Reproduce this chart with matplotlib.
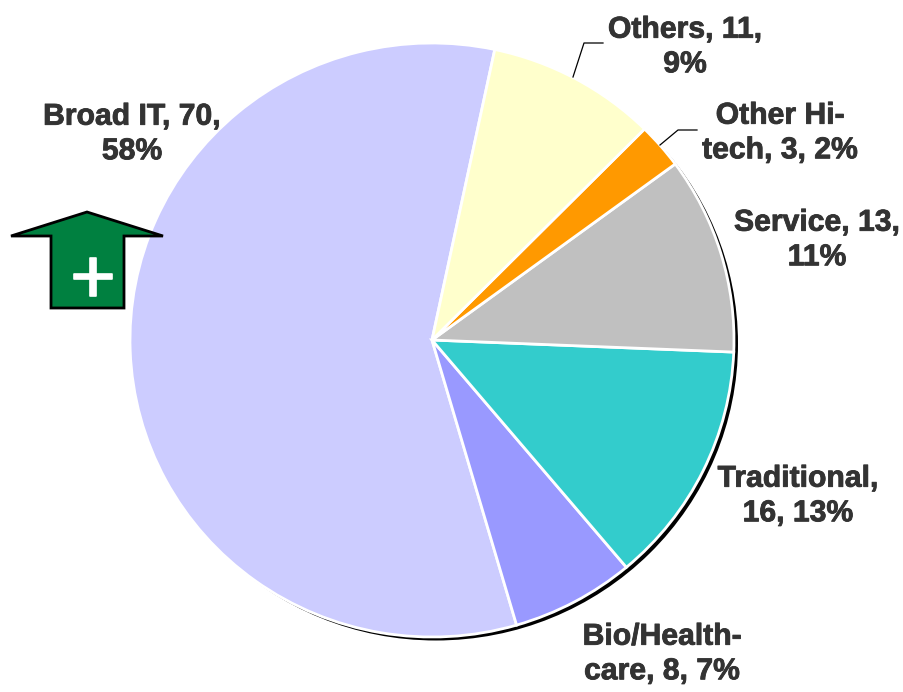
import matplotlib
matplotlib.use("Agg")
import matplotlib.pyplot as plt
from matplotlib.patches import Ellipse, Polygon
import matplotlib.patheffects as pe

# chart data, counter clockwise starting from Broad IT
categories = ['Broad IT', 'Bio/Health-care', 'Traditional', 'Service', 'Other Hi-tech', 'Others']
values = [70, 8, 16, 13, 3, 11]
colors = ['#CCCCFF', '#9999FF', '#33CCCC', '#C0C0C0', '#FF9900', '#FFFFCC']
label_text = ['Broad IT, 70,\n58%', 'Bio/Health-\ncare, 8, 7%', 'Traditional,\n16, 13%',
              'Service, 13,\n11%', 'Other Hi-\ntech, 3, 2%', 'Others, 11,\n9%']

W, H = 904, 692
TEXT = '#333333'
plt.rcParams['font.family'] = ['Liberation Sans', 'DejaVu Sans']

fig = plt.figure(figsize=(W / 100, H / 100), dpi=100, facecolor='white')

# pie gets its own axes, it is a little wider than tall in the picture
cx, cy, rx, ry = 432, 340, 302, 297
pie_ax = fig.add_axes([(cx - rx) / W, 1 - (cy + ry) / H, 2 * rx / W, 2 * ry / H])
pie_ax.add_patch(Ellipse((4 / rx, -3.5 / ry), 2, 2, facecolor='black', edgecolor='none', clip_on=False))
pie_ax.pie(values, colors=colors, startangle=78, counterclock=True, radius=1,
           wedgeprops={'edgecolor': 'white', 'linewidth': 2, 'clip_on': False})
pie_ax.set_aspect('auto')
pie_ax.set_xlim(-1, 1)
pie_ax.set_ylim(-1, 1)
pie_ax.axis('off')

# overlay in pixel coordinates for labels, leaders and the arrow
ax = fig.add_axes([0, 0, 1, 1])
ax.set_xlim(0, W)
ax.set_ylim(H, 0)
ax.axis('off')
ax.patch.set_alpha(0)

label_pos = [(132, 134), (662, 654), (798, 496), (817, 240), (780, 133), (685, 47)]
for txt, (x, y) in zip(label_text, label_pos):
    t = ax.text(x, y, txt, ha='center', va='center', ma='center', fontsize=21.7,
                fontweight='bold', color=TEXT, linespacing=1.3)
    t.set_path_effects([pe.withStroke(linewidth=0.6, foreground=TEXT)])

# leader lines
ax.plot([573, 584, 603], [77, 43, 43], color='black', lw=0.9)
ax.plot([660, 678, 697], [145, 130, 130], color='black', lw=0.9)

# green arrow with the plus sign
arrow = [(87, 212), (163, 236), (124, 236), (124, 308), (51, 308), (51, 236), (11, 236)]
ax.add_patch(Polygon(arrow, closed=True, facecolor='#008040', edgecolor='black', lw=2, joinstyle='miter'))
plus = ax.text(93, 274, '+', ha='center', va='center_baseline', fontsize=56, color='white')
plus.set_path_effects([pe.withStroke(linewidth=1.2, foreground='white')])

fig.savefig('out.png', dpi=100)
